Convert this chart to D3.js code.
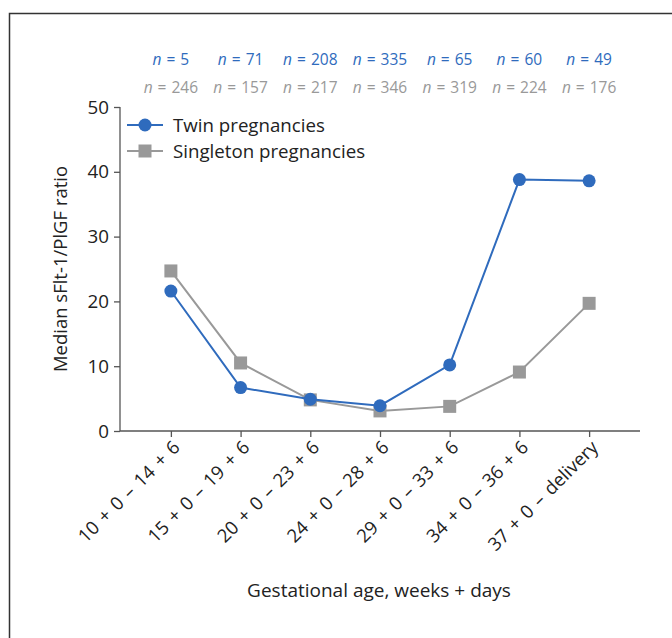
<!DOCTYPE html>
<html><head><meta charset="utf-8">
<script src="https://cdn.jsdelivr.net/npm/d3@7"></script>
<style>
body{margin:0;background:#fff;}
text{font-family:"Open Sans","Noto Sans",sans-serif;}
</style></head>
<body><svg id="c" width="672" height="638"></svg>
<script>
const categories = ["10 + 0 – 14 + 6","15 + 0 – 19 + 6","20 + 0 – 23 + 6","24 + 0 – 28 + 6","29 + 0 – 33 + 6","34 + 0 – 36 + 6","37 + 0 – delivery"];
const twinValues = [21.6, 6.7, 4.9, 3.9, 10.2, 38.8, 38.6];
const singletonValues = [24.7, 10.5, 4.8, 3.1, 3.8, 9.1, 19.7];
const twinN = [5, 71, 208, 335, 65, 60, 49];
const singletonN = [246, 157, 217, 346, 319, 224, 176];
const yTicks = [0, 10, 20, 30, 40, 50];

const blue = "#2f6bbd", gray = "#999999";
const ff = '"Open Sans","Noto Sans",sans-serif';
const svg = d3.select("#c");

// frame
svg.append("rect").attr("x", 9.5).attr("y", 13.5).attr("width", 700).attr("height", 700)
  .attr("fill", "none").attr("stroke", "#333").attr("stroke-width", 1.5);

const x = d3.scalePoint().domain(categories).range([120, 640]).padding(0.73);
const y = d3.scaleLinear().domain([0, 50]).range([431, 107]);

// y axis
const ya = svg.append("g").attr("transform", "translate(120,0)")
  .call(d3.axisLeft(y).tickValues(yTicks).tickSize(6).tickPadding(5));
ya.select(".domain").attr("d", "M0,107V431").attr("stroke", "#555").attr("stroke-width", 1.3);
ya.selectAll(".tick line").attr("stroke", "#555").attr("stroke-width", 1.3);
ya.selectAll("text").attr("font-size", 18.8).attr("fill", "#222").style("font-family", ff);

// x axis
const xa = svg.append("g").attr("transform", "translate(0,431)")
  .call(d3.axisBottom(x).tickSize(6).tickPadding(6));
xa.select(".domain").attr("d", "M120,0H640").attr("stroke", "#555").attr("stroke-width", 1.3);
xa.selectAll(".tick line").attr("stroke", "#555").attr("stroke-width", 1.3);
xa.selectAll("text").attr("font-size", 18.5).attr("fill", "#222")
  .style("font-family", ff).style("word-spacing", "2px")
  .attr("text-anchor", "end").attr("dy", "0.35em")
  .attr("transform", "translate(5,13) rotate(-45)").attr("y", 0).attr("x", 0);

// axis titles
svg.append("text").attr("transform", "translate(67,269) rotate(-90)").attr("text-anchor", "middle")
  .attr("font-size", 18.5).attr("fill", "#222").text("Median sFlt-1/PlGF ratio");
svg.append("text").attr("x", 379).attr("y", 597).attr("text-anchor", "middle")
  .attr("font-size", 19).attr("fill", "#222").text("Gestational age, weeks + days");

// n labels
function nRow(vals, color, yy) {
  const t = svg.append("g").selectAll("text").data(vals).join("text")
    .attr("x", (d, i) => x(categories[i])).attr("y", yy).attr("text-anchor", "middle")
    .attr("font-size", 15.5).attr("fill", color).style("word-spacing", "1px");
  t.append("tspan").attr("font-style", "italic").text("n");
  t.append("tspan").text(d => " = " + d);
}
nRow(twinN, blue, 65);
nRow(singletonN, gray, 93);

const line = d3.line().x((d, i) => x(categories[i])).y(d => y(d));

// singleton
svg.append("path").datum(singletonValues).attr("d", line).attr("fill", "none")
  .attr("stroke", gray).attr("stroke-width", 2);
svg.append("g").selectAll("rect").data(singletonValues).join("rect")
  .attr("x", (d, i) => x(categories[i]) - 6.5).attr("y", d => y(d) - 6.5)
  .attr("width", 13).attr("height", 13).attr("fill", gray);

// twin
svg.append("path").datum(twinValues).attr("d", line).attr("fill", "none")
  .attr("stroke", blue).attr("stroke-width", 2);
svg.append("g").selectAll("circle").data(twinValues).join("circle")
  .attr("cx", (d, i) => x(categories[i])).attr("cy", d => y(d)).attr("r", 6.5).attr("fill", blue);

// legend
const lg = svg.append("g");
lg.append("line").attr("x1", 127).attr("x2", 163).attr("y1", 125).attr("y2", 125).attr("stroke", blue).attr("stroke-width", 2);
lg.append("circle").attr("cx", 145).attr("cy", 125).attr("r", 6.5).attr("fill", blue);
lg.append("text").attr("x", 173).attr("y", 131.5).attr("font-size", 18.7).attr("fill", "#222").text("Twin pregnancies");
lg.append("line").attr("x1", 127).attr("x2", 163).attr("y1", 151).attr("y2", 151).attr("stroke", gray).attr("stroke-width", 2);
lg.append("rect").attr("x", 138.5).attr("y", 144.5).attr("width", 13).attr("height", 13).attr("fill", gray);
lg.append("text").attr("x", 173).attr("y", 157.5).attr("font-size", 18.7).attr("fill", "#222").text("Singleton pregnancies");
</script></body></html>
